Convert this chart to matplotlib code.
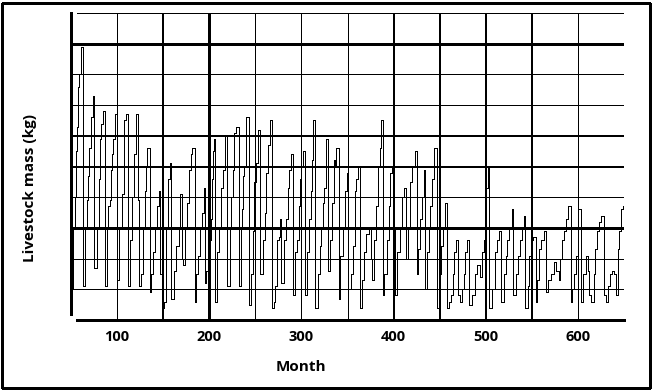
import numpy as np
import matplotlib
matplotlib.use("Agg")
import matplotlib.pyplot as plt
from matplotlib.patches import Rectangle

# monthly livestock mass readings (month index, mass in grid units)
month = [50, 52, 54, 55, 57, 58, 59, 61,
         63, 65, 67, 68, 70, 72, 74,
         75, 78, 80, 82, 83, 85,
         87, 89, 90, 92, 93, 94, 96, 98,
         100, 102, 105, 107, 108, 110,
         112, 114, 116, 118, 120, 121, 123,
         124, 126, 128, 130, 131, 133,
         136, 137, 139, 141, 143, 145, 147,
         149, 151, 153, 155, 157,
         159, 162, 164, 167, 168, 170,
         171, 174, 176, 178, 180, 181,
         184, 186, 188, 190, 192, 194,
         195, 197, 199, 201, 202, 203, 204, 205,
         206, 208, 211, 213, 215, 217,
         219, 222, 224, 226, 227, 229,
         232, 234, 235, 237, 238, 240,
         243, 245, 247, 249, 251, 253,
         255, 258, 260, 262, 264, 266,
         268, 270, 271, 274, 276, 277,
         278, 281, 283, 285, 287, 289,
         291, 293, 295, 297, 299, 300, 302,
         304, 306, 308, 310, 311, 313,
         315, 318, 320, 321, 323, 325, 327,
         329, 331, 333, 335, 336, 338,
         341, 342, 345, 347, 349,
         351, 354, 356, 358, 359, 361,
         364, 366, 368, 370, 373, 375,
         377, 379, 381, 383, 385, 386,
         388, 390, 393, 395, 396, 398, 399,
         402, 404, 407, 409, 411,
         414, 416, 418, 420, 423,
         425, 427, 429, 431, 433,
         434, 436, 438, 440, 442, 444,
         447, 449, 451, 454, 456,
         458, 460, 462, 464, 466, 468,
         470, 472, 474, 476, 478, 480,
         482, 485, 488, 491, 494, 496, 498, 500, 502,
         504, 507, 510, 512, 514,
         517, 520, 522, 523, 525, 528,
         530, 533, 535, 537, 539, 541,
         543, 546, 547, 549, 551,
         554, 556, 558, 560, 563,
         565, 568, 571, 574, 576,
         579, 581, 583, 585, 587, 589,
         592, 594, 596, 598, 600,
         603, 606, 609, 611, 612,
         614, 617, 619, 621, 623, 625,
         628, 630, 633, 635, 637, 639,
         641, 643, 645, 647, 649, 650]

mass = [1.0, 3.0, 4.0, 5.5, 6.3, 7.6, 8.0, 8.9,
        1.1, 3.0, 3.9, 4.7, 5.6, 6.6, 7.3,
        1.7, 3.0, 4.6, 5.9, 6.4, 6.8,
        1.1, 3.0, 3.7, 3.9, 4.9, 5.4, 5.9, 6.7,
        1.3, 3.0, 4.1, 5.9, 6.5, 6.7,
        1.1, 2.6, 4.0, 5.4, 5.9, 6.7, 3.9,
        1.1, 1.5, 3.0, 4.2, 5.0, 5.6,
        0.9, 1.5, 2.2, 3.0, 3.7, 4.2, 1.5,
        0.4, 0.6, 3.0, 4.6, 5.1,
        0.7, 1.6, 2.4, 3.0, 4.1, 2.0,
        1.8, 3.0, 3.8, 4.9, 5.4, 5.6,
        0.6, 1.5, 2.1, 3.0, 3.5, 4.3,
        1.2, 1.6, 2.2, 2.6, 3.3, 4.6, 5.5, 5.9,
        0.6, 2.2, 3.0, 4.3, 4.9, 6.0,
        1.1, 3.0, 4.0, 4.9, 6.1, 6.3,
        1.1, 3.0, 3.6, 4.7, 5.0, 6.6,
        0.5, 1.5, 2.9, 4.5, 5.1, 6.2,
        1.5, 2.6, 3.5, 4.8, 5.7, 6.5,
        0.4, 0.6, 1.1, 2.6, 2.7, 3.3,
        1.2, 2.6, 3.3, 4.3, 4.9, 5.4,
        0.8, 2.2, 2.6, 3.7, 4.6, 5.0, 5.5,
        0.8, 2.2, 3.3, 4.2, 5.2, 6.5,
        0.4, 1.5, 2.4, 3.0, 3.8, 4.3, 5.9,
        1.6, 2.6, 3.8, 5.2, 5.0, 5.6,
        0.7, 2.1, 3.0, 4.2, 4.8,
        1.0, 1.5, 2.4, 4.2, 4.6, 5.0,
        0.4, 1.3, 2.2, 2.8, 3.0, 2.0,
        1.3, 2.6, 3.7, 5.0, 5.6, 6.5,
        0.8, 1.5, 2.6, 3.7, 4.8, 5.0, 3.0,
        0.8, 2.2, 3.0, 4.0, 4.3,
        2.0, 3.0, 4.5, 5.0, 5.5,
        1.5, 2.3, 3.3, 4.0, 4.9,
        1.0, 2.2, 3.0, 3.7, 4.6, 5.6,
        0.4, 1.5, 2.4, 3.0, 3.8,
        0.4, 0.6, 0.8, 1.5, 2.2, 2.6,
        0.8, 0.6, 1.0, 1.5, 2.2, 2.6,
        0.5, 0.8, 1.5, 1.8, 1.4, 2.2, 2.6, 4.3, 5.0,
        0.4, 1.0, 2.2, 2.6, 2.9,
        0.6, 1.5, 2.1, 2.6, 3.0, 3.6,
        0.8, 1.5, 2.1, 2.6, 3.0, 3.4,
        0.4, 1.1, 2.1, 2.6, 2.7,
        0.6, 1.3, 2.3, 2.6, 2.9,
        0.9, 1.3, 1.5, 1.9, 1.6,
        1.3, 2.0, 2.6, 2.9, 3.3, 3.7,
        0.6, 1.0, 1.5, 2.1, 3.6,
        0.6, 1.5, 2.1, 1.6, 0.8,
        0.6, 1.5, 2.3, 2.9, 3.2, 3.4,
        0.8, 0.6, 1.1, 1.5, 1.6, 1.5,
        0.8, 2.3, 2.9, 3.6, 3.7, 2.8]

xticks = [100, 200, 300, 400, 500, 600]
xgrid = [100, 150, 200, 250, 300, 350, 400, 450, 500, 550, 600, 650]
ygrid = [1, 2, 3, 4, 5, 6, 7, 8, 9, 10]

# line widths (pt) for grid
xgrid_lw = {100: 0.5, 150: 1.3, 200: 2.0, 250: 0.5, 300: 0.5, 350: 0.7,
            400: 1.3, 450: 1.3, 500: 1.3, 550: 1.3, 600: 0.5, 650: 0.5}
ygrid_lw = {1: 0.5, 2: 0.5, 3: 2.0, 4: 0.5, 5: 1.4, 6: 1.4, 7: 0.5,
            8: 0.5, 9: 2.0, 10: 0.5}

font = ['Open Sans', 'DejaVu Sans']

fig = plt.figure(figsize=(6.55, 3.91), dpi=100)
ax = fig.add_axes([71/655, 71/391, 553/655, 307/391])

for xg in xgrid:
    ax.axvline(xg, color='black', lw=xgrid_lw[xg], antialiased=False, zorder=1)
for yg in ygrid:
    xmin = 6/553 if yg == 10 else 0
    ax.axhline(yg, xmin=xmin, color='black', lw=ygrid_lw[yg], antialiased=False, zorder=1)

ax.plot(month, mass, color='black', lw=0.6, drawstyle='steps-post',
        antialiased=False, zorder=3)

ax.set_xlim(50, 650)
ax.set_ylim(0, 10)
for s in ['top', 'right']:
    ax.spines[s].set_visible(False)
ax.spines['left'].set_linewidth(1.8)
ax.spines['left'].set_bounds(0.2, 10)
ax.spines['left'].set_antialiased(False)
ax.spines['bottom'].set_linewidth(1.8)
ax.spines['bottom'].set_bounds(56.5, 650)
ax.spines['bottom'].set_antialiased(False)

ax.set_xticks(xticks)
ax.set_xticklabels([str(t) for t in xticks], family=font, fontweight='bold', fontsize=10.5)
ax.tick_params(axis='x', length=0, pad=7)
ax.set_yticks([])

fig.text(301/655, 1 - 367/391, "Month", family=font, fontweight='bold',
         fontsize=11, ha='center', va='center')
fig.text(30/655, 1 - 188/391, "Livestock mass (kg)", family=font, fontweight='bold',
         fontsize=11, ha='center', va='center', rotation=90)

fig.patches.append(Rectangle((2/655, 3/391), 648/655, 385/391, transform=fig.transFigure,
                             fill=False, ec='black', lw=0.8, antialiased=False))

plt.savefig("out.png", dpi=100)
plt.close()
